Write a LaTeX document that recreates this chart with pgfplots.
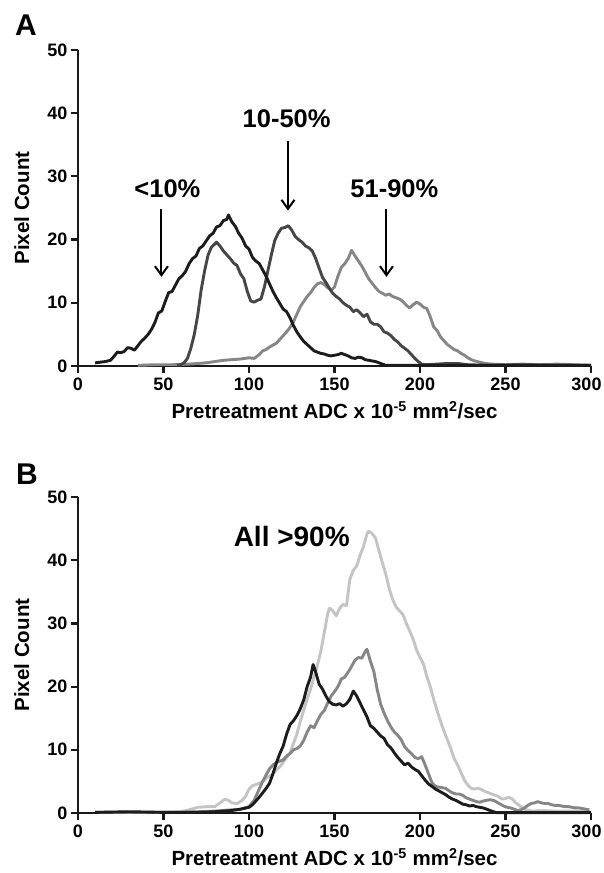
\documentclass[border=0pt]{standalone}
\usepackage{fontspec}
\setmainfont{Liberation Sans}
\usepackage{pgfplots}
\pgfplotsset{compat=1.18}
\usetikzlibrary{arrows.meta}

\definecolor{cblack}{HTML}{1C1C1C}
\definecolor{cdark}{HTML}{464646}
\definecolor{cmid}{HTML}{868686}
\definecolor{clight}{HTML}{C4C4C4}

\pgfplotsset{
  panel/.style={
    scale only axis, width=513pt, height=316pt,
    xmin=0, xmax=300, ymin=0, ymax=50,
    axis x line*=bottom, axis y line*=left,
    xtick={0,50,...,300}, ytick={0,10,...,50},
    xticklabels={0,50,100,150,200,250,\hspace*{-9pt}300},
    tick align=outside, major tick length=7pt,
    axis line style={line width=2.4pt, black!90},
    tick style={line width=2.2pt, black!90},
    ticklabel style={font=\fontsize{18}{18}\selectfont\bfseries},
    xticklabel style={yshift=-1pt},
    /pgf/number format/assume math mode=true,
    clip=false,
  },
  curve/.style={line width=2.9pt, line join=round, no marks},
}
\tikzset{pointer/.style={line width=2pt, -{Straight Barb[length=9pt,width=13pt,line width=2pt]}}}
\newcommand{\lab}{\fontsize{20.5}{21}\selectfont\bfseries}
\newcommand{\ann}{\fontsize{25.5}{26}\selectfont\bfseries}
\newcommand{\xlab}{Pretreatment ADC x 10\textsuperscript{-5} mm\textsuperscript{2}/sec}

\begin{document}
\begin{tikzpicture}[x=1pt,y=1pt]
\path[use as bounding box] (0,0) rectangle (603,873);

% panel A
\begin{axis}[panel, name=a, at={(78pt,507pt)}, anchor=south west]
\addplot[curve, cmid] coordinates {
(35,0.1) (45,0.2) (55,0.2) (65,0.3) (75,0.5) (85,0.9) (90,1.0) (95,1.1) (100,1.3)
(103,1.2) (106,1.8) (108,2.4) (110,2.6) (112,3.0) (114,3.3) (116,3.6) (118,4.2)
(120,4.8) (122,5.4) (124,6.1) (126,7.0) (128,8.2) (130,9.4) (132,10.2) (134,11.0)
(136,11.6) (138,12.4) (140,13.0) (142,13.2) (144,12.9) (146,12.4) (148,12.0)
(150,12.5) (152,14.2) (154,15.6) (156,16.2) (158,17.0) (160,18.3) (162,17.4)
(164,16.6) (166,15.8) (168,14.8) (170,13.8) (172,13.1) (174,12.4) (176,11.8)
(178,11.5) (180,11.2) (182,11.4) (184,11.0) (186,10.8) (188,10.6) (190,10.2)
(192,9.6) (194,9.2) (196,9.7) (198,10.1) (200,9.8) (202,9.3) (204,9.1) (206,7.8)
(208,6.2) (210,5.6) (212,4.6) (214,4.0) (216,3.4) (218,3.0) (220,2.6) (222,2.4)
(224,2.0) (226,1.7) (228,1.3) (230,1.0) (232,0.8) (235,0.6) (238,0.4) (242,0.3)
(250,0.2) (260,0.3) (270,0.2) (280,0.3) (290,0.2) (300,0.1)
};
\addplot[curve, cdark] coordinates {
(58,0.1) (60,0.2) (62,0.5) (64,1.2) (66,2.8) (68,5.0) (70,8.0) (72,12.0) (74,15.0)
(76,17.5) (78,18.8) (80,19.3) (81,19.6) (83,19.0) (85,18.2) (87,17.6) (89,17.0)
(91,16.3) (93,15.9) (95,14.6) (97,13.8) (99,11.8) (101,10.3) (103,10.1) (105,10.4)
(107,10.6) (109,12.5) (111,15.0) (113,17.5) (115,19.8) (117,21.0) (119,21.8)
(121,21.9) (123,22.2) (125,21.5) (127,20.5) (129,20.0) (131,19.6) (133,19.0)
(135,18.7) (137,18.2) (139,17.0) (141,15.5) (143,14.0) (145,13.2) (147,12.3)
(149,11.5) (151,11.0) (153,10.6) (155,10.0) (157,9.6) (159,9.3) (161,8.6) (163,8.9)
(165,8.4) (167,7.8) (169,8.2) (171,7.0) (173,6.6) (175,6.6) (177,6.2) (179,5.4)
(181,5.2) (183,4.8) (185,4.2) (187,3.8) (189,3.2) (191,2.8) (193,2.4) (195,1.8)
(197,1.2) (199,0.7) (201,0.3) (203,0.2) (210,0.3) (216,0.4) (222,0.4) (228,0.2)
(240,0.1) (260,0.2) (280,0.1) (300,0.1)
};
\addplot[curve, cblack] coordinates {
(10,0.5) (13,0.6) (16,0.7) (19,0.9) (21,1.5) (23,2.2) (25,2.1) (27,2.3) (29,2.9)
(31,2.8) (33,2.5) (35,3.2) (37,3.9) (39,4.4) (41,5.0) (43,5.8) (45,6.9) (47,8.4)
(49,8.7) (51,10.2) (53,11.6) (55,11.8) (57,12.8) (59,13.8) (61,14.3) (63,15.0)
(65,16.2) (67,17.0) (69,17.4) (71,18.6) (73,19.0) (75,19.8) (77,20.6) (79,21.0)
(81,22.0) (83,22.2) (85,23.0) (87,23.2) (88,23.9) (90,22.8) (92,22.1) (94,21.0)
(96,20.2) (98,19.0) (100,18.5) (102,17.2) (104,16.6) (106,16.2) (108,15.2)
(110,14.2) (112,13.0) (114,11.8) (116,10.8) (118,9.9) (120,9.0) (122,8.6)
(124,7.6) (126,6.4) (128,5.4) (130,4.6) (132,3.9) (134,3.4) (136,2.9) (138,2.4)
(140,2.2) (142,2.0) (144,1.9) (146,1.7) (148,1.6) (150,1.7) (152,1.8) (154,2.0)
(156,1.8) (158,1.6) (160,1.3) (162,1.2) (164,1.4) (166,1.3) (168,1.0) (170,0.9)
(172,0.8) (174,0.7) (176,0.5) (178,0.3) (180,0.1) (200,0.1) (250,0.1) (300,0.1)
};
\node[font=\ann] at (axis cs:52.3,28) {<10\%};
\node[font=\ann] at (axis cs:122,39.2) {10-50\%};
\node[font=\ann] at (axis cs:185,28) {51-90\%};
\draw[pointer] (axis cs:48.8,24.9) -- (axis cs:48.8,14.1);
\draw[pointer] (axis cs:122.8,35.6) -- (axis cs:122.8,24.6);
\draw[pointer] (axis cs:180.4,24.9) -- (axis cs:180.4,14.1);
\end{axis}
\node[font=\lab, anchor=base] at ([yshift=-53pt]a.south) {\xlab};
\node[font=\lab, anchor=base, rotate=90] at ([xshift=-49pt]a.west) {Pixel Count};
\node[font=\fontsize{30}{30}\selectfont\bfseries] at (26,848) {A};

% panel B
\begin{axis}[panel, name=b, at={(78pt,60pt)}, anchor=south west]
\addplot[curve, clight] coordinates {
(10,0.1) (30,0.1) (50,0.1) (60,0.2) (65,0.5) (70,0.9) (75,1.0) (80,1.0) (83,1.6)
(86,2.2) (88,2.0) (90,1.6) (93,1.5) (96,2.0) (98,2.6) (100,3.8) (102,4.3) (104,4.5)
(106,4.7) (108,5.0) (110,5.5) (112,5.8) (114,6.2) (116,6.8) (118,7.3) (120,8.0)
(122,8.8) (124,9.5) (126,11.0) (128,12.5) (130,14.5) (132,16.3) (134,18.0)
(136,19.6) (138,21.5) (140,23.4) (142,25.6) (144,28.5) (146,31.5) (147,32.4)
(149,32.0) (151,31.2) (153,32.4) (155,33.0) (157,32.8) (159,37.0) (161,38.4)
(163,39.1) (165,40.8) (167,42.2) (169,44.2) (170,44.6) (172,44.2) (174,43.5)
(176,41.5) (178,39.6) (180,37.8) (182,35.5) (184,33.8) (186,32.6) (188,32.0)
(190,31.4) (192,30.0) (194,28.8) (196,27.5) (198,25.8) (200,24.6) (202,23.6)
(204,21.6) (206,20.0) (208,18.0) (210,16.2) (212,14.5) (214,13.0) (216,11.6)
(218,10.2) (220,8.6) (222,7.6) (224,6.4) (226,5.2) (228,4.4) (230,3.9) (232,3.8)
(234,3.9) (236,3.7) (238,3.4) (240,3.2) (242,3.0) (244,2.8) (246,2.6) (248,2.2)
(250,2.3) (252,2.5) (254,2.2) (256,1.6) (258,1.2) (260,0.8) (262,0.5) (266,0.3)
(270,0.4) (280,0.3) (290,0.3) (300,0.2)
};
\addplot[curve, cmid] coordinates {
(10,0.1) (40,0.1) (60,0.1) (70,0.2) (80,0.3) (90,0.5) (95,0.6) (100,1.0) (103,2.0)
(106,3.8) (108,5.0) (110,6.0) (112,7.0) (114,7.6) (116,8.0) (118,8.2) (120,8.4)
(122,9.0) (124,9.4) (126,10.0) (128,10.2) (130,10.6) (132,11.5) (134,12.8)
(136,13.8) (138,13.5) (140,14.6) (142,15.6) (144,16.2) (146,17.4) (148,18.5)
(150,19.2) (152,20.0) (154,21.2) (156,21.5) (158,22.3) (160,23.2) (162,24.2)
(164,24.6) (166,24.5) (168,25.6) (169,25.9) (171,24.0) (173,22.4) (175,19.5)
(177,17.2) (179,15.8) (181,14.6) (183,13.6) (185,12.8) (187,12.3) (189,11.6)
(191,10.5) (193,9.9) (195,9.4) (197,8.8) (199,8.6) (201,8.9) (203,7.6) (205,6.2)
(207,4.8) (209,4.2) (211,4.1) (213,4.0) (215,3.9) (217,3.5) (219,3.2) (221,3.0)
(223,3.0) (225,2.8) (227,2.4) (229,2.2) (231,2.0) (233,1.8) (235,1.7) (237,1.9)
(239,2.0) (241,2.1) (243,2.0) (245,1.7) (247,1.4) (249,1.1) (251,0.9) (253,0.8)
(255,0.6) (257,0.4) (259,0.5) (261,0.8) (263,1.2) (265,1.5) (267,1.6) (269,1.8)
(271,1.6) (273,1.5) (275,1.5) (277,1.3) (279,1.2) (281,1.2) (283,1.1) (285,1.0)
(287,1.0) (289,0.9) (291,0.8) (293,0.8) (295,0.7) (297,0.6) (299,0.5)
};
\addplot[curve, cblack] coordinates {
(10,0.1) (30,0.2) (50,0.1) (70,0.1) (80,0.2) (90,0.4) (95,0.6) (100,0.9) (102,1.3)
(104,1.9) (106,2.5) (108,3.2) (110,3.9) (112,4.7) (114,6.2) (116,7.9) (118,9.4)
(120,10.6) (122,12.5) (124,14.0) (126,14.6) (128,15.4) (130,16.5) (132,17.9)
(134,20.0) (136,21.5) (137.5,23.5) (139,22.3) (141,20.4) (143,19.6) (145,18.5)
(147,17.6) (149,17.2) (151,17.1) (153,17.3) (155,16.9) (157,17.3) (159,18.0)
(161,19.3) (163,18.5) (165,17.4) (167,16.3) (169,15.2) (171,13.8) (173,13.4)
(175,12.8) (177,12.2) (179,11.8) (181,10.8) (183,10.3) (185,9.5) (187,8.8)
(189,8.2) (191,7.6) (193,7.9) (195,7.3) (197,6.9) (199,6.6) (201,5.9) (203,5.2)
(205,4.6) (207,4.2) (209,3.8) (211,3.5) (213,3.2) (215,2.9) (217,2.5) (219,2.2)
(221,2.0) (223,1.7) (225,1.4) (227,1.3) (229,1.1) (231,1.2) (233,1.0) (235,0.9)
(237,0.8) (239,0.6) (241,0.4) (243,0.2) (245,0.05) (300,0.05)
};
\node[font=\fontsize{28}{29}\selectfont\bfseries] at (axis cs:125,43.7) {All >90\%};
\end{axis}
\node[font=\lab, anchor=base] at ([yshift=-53pt]b.south) {\xlab};
\node[font=\lab, anchor=base, rotate=90] at ([xshift=-49pt]b.west) {Pixel Count};
\node[font=\fontsize{30}{30}\selectfont\bfseries] at (27,399) {B};
\end{tikzpicture}
\end{document}
